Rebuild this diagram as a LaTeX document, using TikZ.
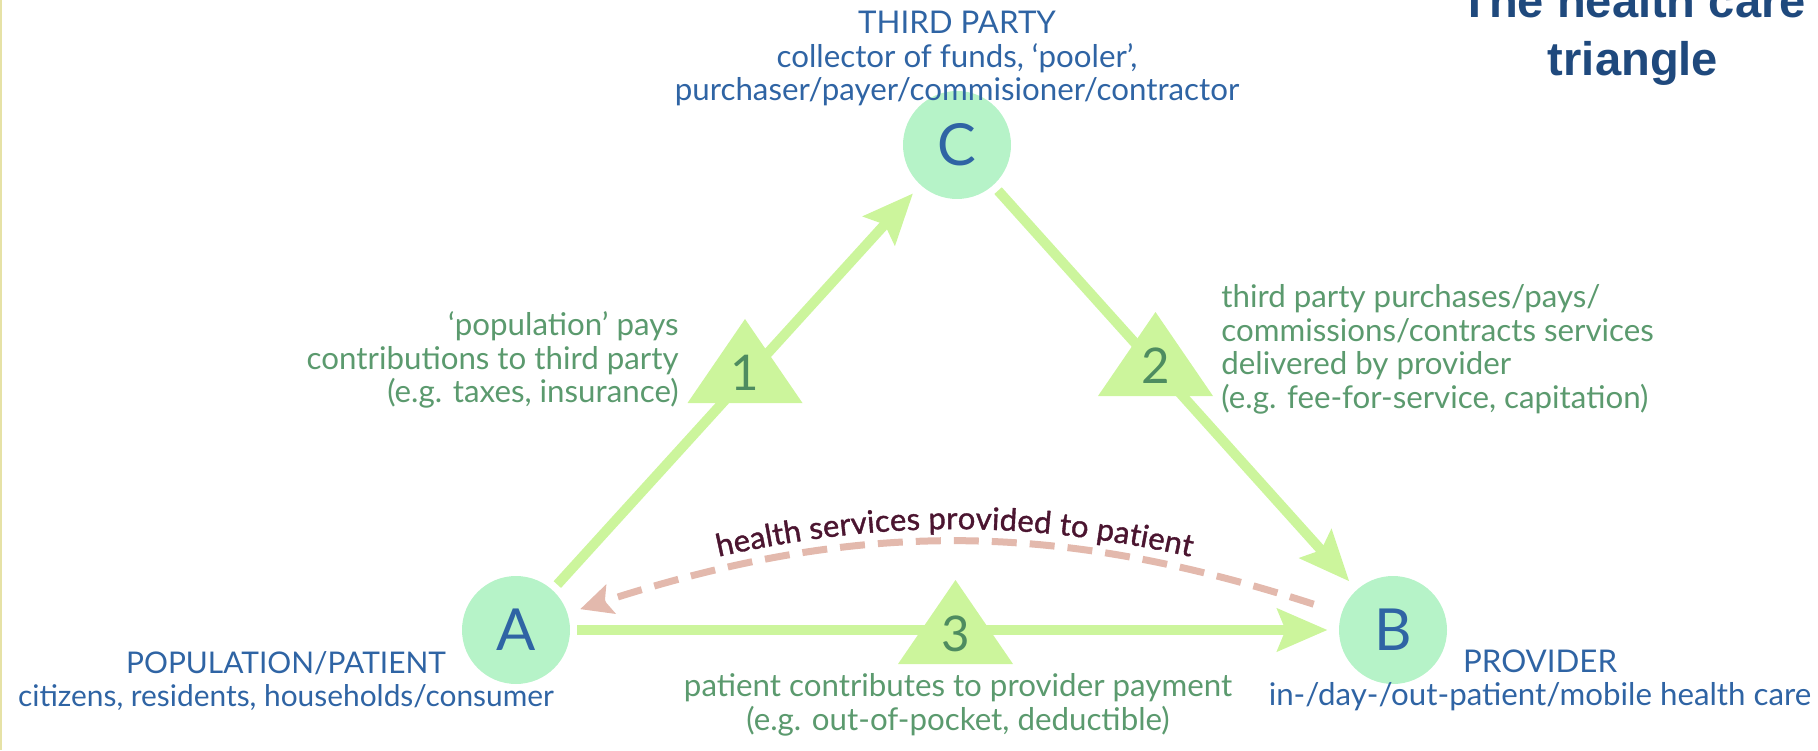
\documentclass[tikz,border=0pt]{standalone}
\usepackage{fontspec}
\setmainfont{Lato}
\newfontfamily\titlefont{Liberation Sans}
\newfontfamily\curvefont[FakeBold=1.2]{Lato}
\usetikzlibrary{arrows.meta,decorations.text}

\definecolor{partyfill}{HTML}{B6F3C8}
\definecolor{partyblue}{HTML}{2F64A4}
\definecolor{flowgreen}{HTML}{CCF59C}
\definecolor{numgreen}{HTML}{4E8C60}
\definecolor{textgreen}{HTML}{5B9A6E}
\definecolor{servicepink}{HTML}{E3B9AD}
\definecolor{servicetext}{HTML}{4B1530}
\definecolor{titleblue}{HTML}{1F497D}
\definecolor{slidebar}{HTML}{E6E2A6}

\begin{document}
\begin{tikzpicture}[>=Stealth,thick,
  party/.style={circle,fill=partyfill,minimum size=1.08cm,inner sep=0pt,
    text=partyblue,font=\fontsize{16.5}{18}\selectfont},
  flow/.style={draw=flowgreen,line width=0.1cm,
    -{Stealth[length=0.5cm,width=0.42cm,inset=0.08cm]},
    shorten <=0.06cm,shorten >=0.1cm},
  service/.style={draw=servicepink,line width=0.07cm,dash pattern=on 0.25cm off 0.13cm,
    -{Stealth[length=0.32cm,width=0.3cm,inset=0.06cm]},
    shorten <=0.28cm,shorten >=0.12cm},
  marker/.style={fill=flowgreen},
  num/.style={text=numgreen,font=\fontsize{14}{15}\selectfont,inner sep=0pt},
  bluetext/.style={text=partyblue,align=center,inner sep=0pt,
    font=\fontsize{8.9}{9.5}\selectfont},
  greentext/.style={text=textgreen,inner sep=0pt,
    font=\fontsize{8.9}{9.6}\selectfont}]

% Bildrand
\clip (0,0) rectangle (18.18,7.5);
\fill[slidebar] (0,0) rectangle (0.025,7.5);

% Titel
\node[text=titleblue,align=center,anchor=south,
  font=\titlefont\bfseries\fontsize{13.4}{16.5}\selectfont] (title) at (16.33,6.51)
  {The health care\\triangle};

% Akteure
\node[party] (A) at (5.16,1.20) {A};
\node[party] (B) at (13.93,1.20) {B};
\node[party] (C) at (9.57,6.05) {C};

\node[bluetext,anchor=north] (Ctext) at (9.57,7.40)
  {THIRD PARTY\\collector of funds, ‘pooler’,\\purchaser/payer/commisioner/contractor};
\node[bluetext,anchor=north,font=\fontsize{8.5}{9.3}\selectfont] (Atext) at (2.86,1.00)
  {POPULATION/PATIENT\\citizens, residents, households/consumer};
\node[bluetext,anchor=north] (Btext) at (15.40,1.02)
  {PROVIDER\\in-/day-/out-patient/mobile health care};

% Zahlungsfluesse
\draw[flow] (A) -- (C);
\draw[flow] (C) -- (B);
\draw[flow] (A) -- (B);

% Leistungen
\draw[service] (B) to[bend right=18] (A);
\path[decorate,decoration={text along path,text align=center,raise=0.14cm,
  text={|\color{servicetext}\curvefont\fontsize{8.8}{10}\selectfont|health services provided to patient}}]
  (A) to[bend left=18] (B);

% Dreiecke mit Nummern
\foreach \n/\x/\y in {1/6.875/3.47,2/10.98/3.54,3/8.98/0.86}{
  \fill[marker] (\x,\y) -- ++(1.15,0) -- ++(-0.575,0.84) -- cycle;
  \node[num] (m\n) at (\x+0.575,\y+0.3) {\n};
}

% Beschriftungen
\node[greentext,align=right,anchor=north east] (l1) at (6.80,4.40)
  {‘population’ pays\\contributions to third party\\(e.g. taxes, insurance)};
\node[greentext,align=left,anchor=north west] (l2) at (12.20,4.67)
  {third party purchases/pays/\\commissions/contracts services\\delivered by provider\\(e.g. fee-for-service, capitation)};
\node[greentext,align=center,anchor=north] (l3) at (9.58,0.78)
  {patient contributes to provider payment\\(e.g. out-of-pocket, deductible)};

\end{tikzpicture}
\end{document}
